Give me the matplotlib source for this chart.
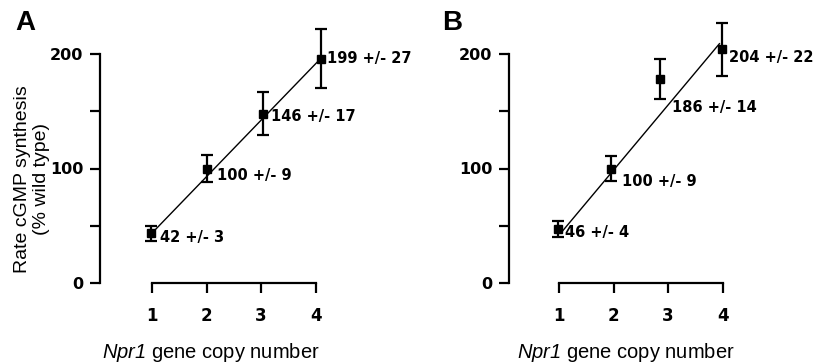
import matplotlib
matplotlib.use('Agg')
import matplotlib.pyplot as plt

plt.rcParams['mathtext.fontset'] = 'custom'
plt.rcParams['mathtext.sf'] = 'Liberation Sans:italic'
plt.rcParams['mathtext.rm'] = 'Liberation Sans'

# panel A: copy number, measured rate (% wild type), error, label text
a_copies = [0.975, 2.0, 3.04, 4.09]
a_rate = [43.5, 100, 148, 196]
a_err = [6.5, 11.5, 19, 26]
a_labels = ['42 +/- 3', '100 +/- 9', '146 +/- 17', '199 +/- 27']
a_label_x = [1.15, 2.19, 3.19, 4.2]
a_label_y = [40, 94, 145, 196]
a_fit_x = [1.05, 4.07]
a_fit_y = [46, 195]

# panel B
b_copies = [0.98, 1.95, 2.85, 3.98]
b_rate = [47, 100, 178, 204]
b_err = [7, 11, 17.5, 23.5]
b_labels = ['46 +/- 4', '100 +/- 9', '186 +/- 14', '204 +/- 22']
b_label_x = [1.11, 2.15, 3.07, 4.11]
b_label_y = [44.5, 89, 153, 197]
b_fit_x = [1.05, 3.94]
b_fit_y = [44.5, 209]

xticks = [1, 2, 3, 4]
yticks = [0, 50, 100, 150, 200]
ytick_labels = ['0', '', '100', '', '200']

W, H = 821, 364
fig = plt.figure(figsize=(W / 100, H / 100), dpi=100)


def panel(rect, xmin, copies, rate, err, labels, lx, ly, fx, fy):
    ax = fig.add_axes(rect)
    ax.plot(fx, fy, color='black', lw=1.0, zorder=2)
    ax.errorbar(copies, rate, yerr=err, fmt='s', color='black', ms=6,
                capsize=4.5, elinewidth=1.6, capthick=1.6, zorder=3)
    for t, x, y in zip(labels, lx, ly):
        ax.text(x, y, t, fontsize=10.5, fontweight='bold', ha='left', va='center')
    ax.set_xlim(xmin, 4.5)
    ax.set_ylim(0, 240)
    for s in ['top', 'right']:
        ax.spines[s].set_visible(False)
    ax.spines['left'].set_linewidth(1.6)
    ax.spines['bottom'].set_linewidth(1.6)
    ax.spines['left'].set_bounds(0, 200)
    ax.spines['bottom'].set_bounds(1, 4)
    ax.set_xticks(xticks)
    ax.set_xticklabels([str(v) for v in xticks], fontsize=12, fontweight='bold')
    ax.set_yticks(yticks)
    ax.set_yticklabels(ytick_labels, fontsize=11.5, fontweight='bold')
    ax.tick_params(axis='x', length=7, width=1.6, pad=10)
    ax.tick_params(axis='y', length=7, width=1.6, pad=5)
    return ax


# y=0 at pixel 283, y=200 at pixel 54 -> 1.145 px per unit
ybot = 1 - 283 / H
yh = 240 * 1.145 / H
axA = panel([100 / W, ybot, (343 - 100) / W, yh], 1 - 52 / 54.67,
            a_copies, a_rate, a_err, a_labels, a_label_x, a_label_y, a_fit_x, a_fit_y)
axB = panel([509 / W, ybot, (750 - 509) / W, yh], 1 - 50 / 54.67,
            b_copies, b_rate, b_err, b_labels, b_label_x, b_label_y, b_fit_x, b_fit_y)

fig.text(15 / W, 1 - 10 / H, 'A', fontsize=20, fontweight='bold',
         family='Liberation Sans', ha='left', va='top')
fig.text(442 / W, 1 - 10 / H, 'B', fontsize=20, fontweight='bold',
         family='Liberation Sans', ha='left', va='top')

fig.text(32 / W, 1 - 179 / H, 'Rate cGMP synthesis\n(% wild type)', rotation=90,
         fontsize=14, family='Liberation Sans', ha='center', va='center',
         multialignment='center', linespacing=1.2)

xlab = r'$\mathsf{Npr1}$ gene copy number'
fig.text(211 / W, 1 - 352 / H, xlab, fontsize=14.5, family='Liberation Sans',
         ha='center', va='center')
fig.text(626 / W, 1 - 352 / H, xlab, fontsize=14.5, family='Liberation Sans',
         ha='center', va='center')

fig.savefig('out.png', dpi=100)
